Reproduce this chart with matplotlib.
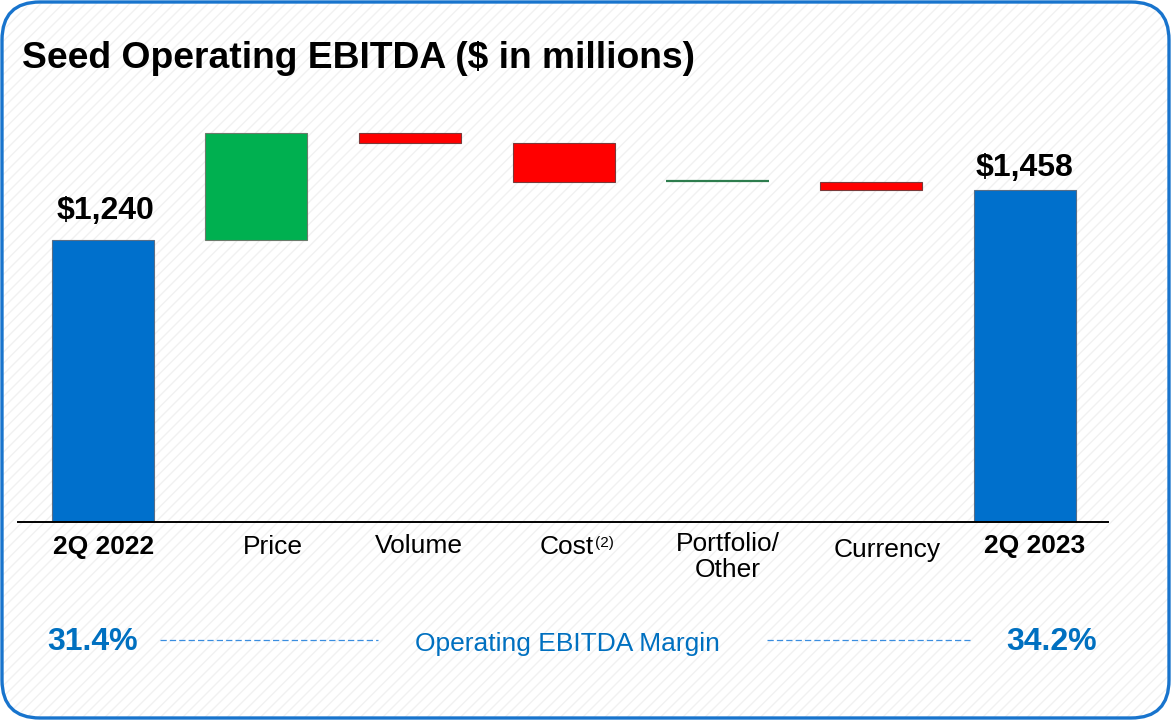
import matplotlib
matplotlib.use('Agg')
import matplotlib.pyplot as plt
from matplotlib.patches import FancyBboxPatch
from matplotlib.lines import Line2D
import numpy as np

plt.rcParams['font.family'] = ['Liberation Sans', 'DejaVu Sans']
plt.rcParams['hatch.linewidth'] = 1.0

# ---- data ----
categories = ['2Q 2022', 'Price', 'Volume', 'Cost', 'Portfolio/\nOther', 'Currency', '2Q 2023']
start_value = 1240
changes = [470, -45, -170, 0, -37]
end_value = 1458
value_labels = ['$1,240', '$1,458']
margins = ['31.4%', '34.2%']
margin_label = 'Operating EBITDA Margin'
title = 'Seed Operating EBITDA ($ in millions)'

# ---- layout constants (pixels) ----
label_dx = [1, 17, 9, 0, 10, 16, 10]      # label centre offset from bar centre
label_py = [547, 547, 546, 547, 557, 550, 546]

# ---- colors ----
BLUE = '#0070CC'
GREEN = '#00B050'
RED = '#FF0000'
DKGREEN = '#2E7D4E'
TXTBLUE = '#0070C0'

W, H = 1173, 721
fig = plt.figure(figsize=(W / 100, H / 100), dpi=100)

# background axes in pixel coordinates
bgax = fig.add_axes([0, 0, 1, 1])
bgax.set_xlim(0, W)
bgax.set_ylim(H, 0)
bgax.axis('off')
hatch = FancyBboxPatch((2, 2), W - 6, H - 5, boxstyle='round,pad=0,rounding_size=38',
                       facecolor='white', edgecolor='#f1f1f1', linewidth=0, hatch='///')
bgax.add_patch(hatch)
border = FancyBboxPatch((2, 2), W - 6, H - 5, boxstyle='round,pad=0,rounding_size=38',
                        facecolor='none', edgecolor='#1874CD', linewidth=2.4)
bgax.add_patch(border)

# title
bgax.text(22, 58, title, fontsize=26.8, fontweight='bold', ha='left', va='center', color='black')

# ---- chart axes ----
base_px, top_px = 522, 120
step_px = 153.75
scale = (522 - 240) / start_value  # px per unit
ymax = (base_px - top_px) / scale
ax = fig.add_axes([18 / W, 1 - base_px / H, (1108 - 18) / W, (base_px - top_px) / H])
ax.patch.set_alpha(0)
ax.set_xlim(-0.55, 6.54)
ax.set_ylim(0, ymax)
for s in ['top', 'right', 'left']:
    ax.spines[s].set_visible(False)
ax.spines['bottom'].set_linewidth(1.4)
ax.spines['bottom'].set_color('black')
ax.set_xticks([])
ax.set_yticks([])

width = 0.664
x = np.arange(len(categories))
ax.bar(x[0], start_value, width, color=BLUE, edgecolor='#5a6e86', linewidth=0.8)
running = start_value
for i, c in enumerate(changes, start=1):
    bottom = running if c >= 0 else running + c
    if c > 0:
        ax.bar(x[i], c, width, bottom=bottom, color=GREEN, edgecolor='#6b7b6b', linewidth=0.8)
    elif c < 0:
        ax.bar(x[i], -c, width, bottom=bottom, color=RED, edgecolor='#7a3a3a', linewidth=0.8)
    else:
        ax.bar(x[i], 0.6, width, bottom=bottom + 3, color=DKGREEN, edgecolor=DKGREEN, linewidth=1.6)
    running += c
ax.bar(x[-1], end_value, width, color=BLUE, edgecolor='#5a6e86', linewidth=0.8)

# value labels (offset in pixels above the bar)
ax.text(x[0] + 3 / step_px, start_value + 29 / scale, value_labels[0], fontsize=23,
        fontweight='bold', ha='center', va='center', color='black')
ax.text(x[-1], end_value + 22 / scale, value_labels[1], fontsize=23,
        fontweight='bold', ha='center', va='center', color='black')

# category labels
def ay(py):
    return (base_px - py) / (base_px - top_px)

tr = ax.get_xaxis_transform()
for i, cat in enumerate(categories):
    bold = (i == 0 or i == len(categories) - 1)
    xc = x[i] + label_dx[i] / step_px
    if cat == 'Cost':
        ax.text(x[i] + 30 / step_px, ay(547), 'Cost', transform=tr, fontsize=19, ha='right',
                va='center', color='black', clip_on=False)
        ax.text(x[i] + 31 / step_px, ay(543), '(2)', transform=tr, fontsize=11, ha='left',
                va='center', color='black', clip_on=False)
        continue
    ax.text(xc, ay(label_py[i]), cat, transform=tr, fontsize=19,
            fontweight='bold' if bold else 'normal',
            ha='center', va='center', color='black', linespacing=1.15, clip_on=False)

# margin row
bgax.text(93, 642, margins[0], fontsize=23, fontweight='bold', color=TXTBLUE, ha='center', va='center')
bgax.text(1052, 642, margins[1], fontsize=23, fontweight='bold', color=TXTBLUE, ha='center', va='center')
bgax.text(567, 644, margin_label, fontsize=19, color=TXTBLUE, ha='center', va='center')
bgax.add_line(Line2D([160, 378], [640, 640], color='#3A8EE0', linewidth=0.9, linestyle=(0, (5, 2.5))))
bgax.add_line(Line2D([767, 970], [640, 640], color='#3A8EE0', linewidth=0.9, linestyle=(0, (5, 2.5))))

fig.savefig('out.png', dpi=100)
